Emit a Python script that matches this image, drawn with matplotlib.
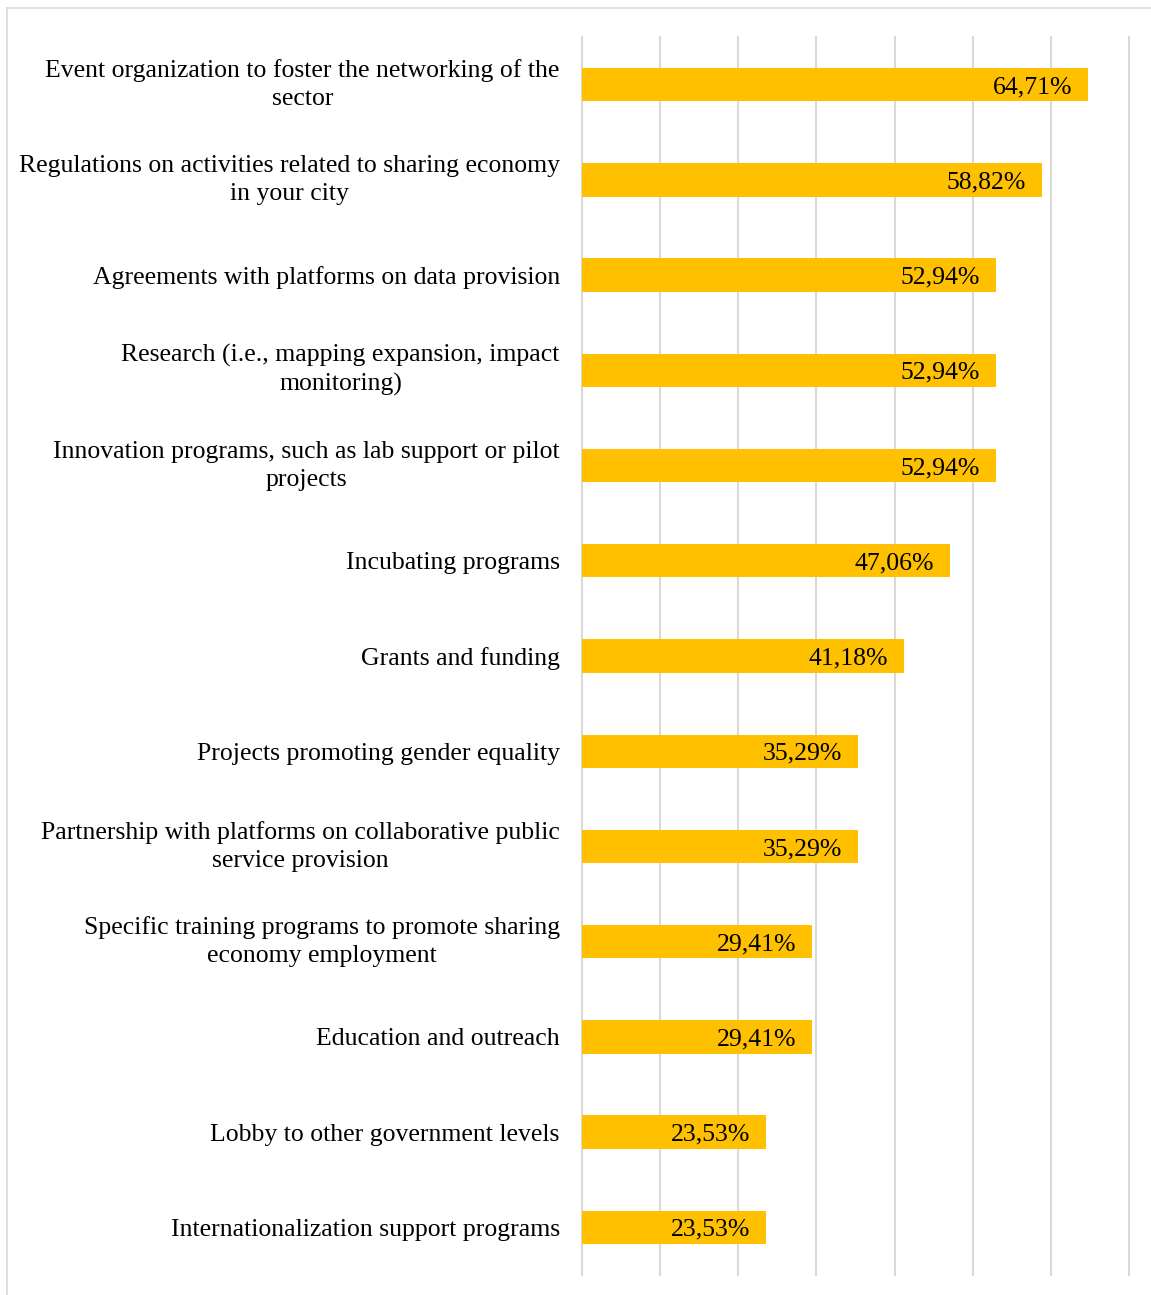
import matplotlib.pyplot as plt
from matplotlib.lines import Line2D
import numpy as np

categories = [
    "Event organization to foster the networking of the\nsector",
    "Regulations on activities related to sharing economy\nin your city",
    "Agreements with platforms on data provision",
    "Research (i.e., mapping expansion, impact\nmonitoring)",
    "Innovation programs, such as lab support or pilot\nprojects",
    "Incubating programs",
    "Grants and funding",
    "Projects promoting gender equality",
    "Partnership with platforms on collaborative public\nservice provision",
    "Specific training programs to promote sharing\neconomy employment",
    "Education and outreach",
    "Lobby to other government levels",
    "Internationalization support programs",
]
shares = [64.71, 58.82, 52.94, 52.94, 52.94, 47.06, 41.18,
          35.29, 35.29, 29.41, 29.41, 23.53, 23.53]

plt.rcParams["font.family"] = ["Liberation Serif", "DejaVu Serif"]

W, H = 1151, 1295
fig = plt.figure(figsize=(W / 100, H / 100), dpi=100)
ax = fig.add_axes([582 / W, 1 - 1275 / H, (1129 - 582) / W, (1275 - 37) / H])

y = np.arange(len(categories))
bars = ax.barh(y, shares, height=0.35, color="#FFC000", zorder=2)

for b, v in zip(bars, shares):
    label = f"{v:.2f}".replace(".", ",") + "%"
    ax.text(b.get_width() - 2.0, b.get_y() + b.get_height() / 2, label,
            ha="right", va="center_baseline", fontsize=18.5, color="black", zorder=3)

ax.set_xlim(0, 70)
ax.set_ylim(len(categories) - 0.5, -0.5)
ax.set_xticks(np.arange(0, 71, 10))
ax.set_xticklabels([])
ax.set_yticks(y)
ax.set_yticklabels(categories, fontsize=18.5)
for t in ax.get_yticklabels():
    t.set_multialignment("center")
    t.set_linespacing(1.35)
    if "\n" in t.get_text():
        t.set_va("center")
ax.tick_params(axis="y", length=0, pad=16)
ax.tick_params(axis="x", length=0)
ax.grid(axis="x", color="#d9d9d9", linewidth=1.5, zorder=0)
for g in ax.get_xgridlines():
    g.set_clip_on(False)
for s in ax.spines.values():
    s.set_visible(False)

# thin frame around the chart area
fig.add_artist(Line2D([7 / W, 7 / W], [0, 1 - 8 / H], transform=fig.transFigure,
                      color="#d9d9d9", linewidth=1.2))
fig.add_artist(Line2D([7 / W, 1], [1 - 8 / H, 1 - 8 / H], transform=fig.transFigure,
                      color="#d9d9d9", linewidth=1.2))

fig.savefig("out.png", dpi=100)
